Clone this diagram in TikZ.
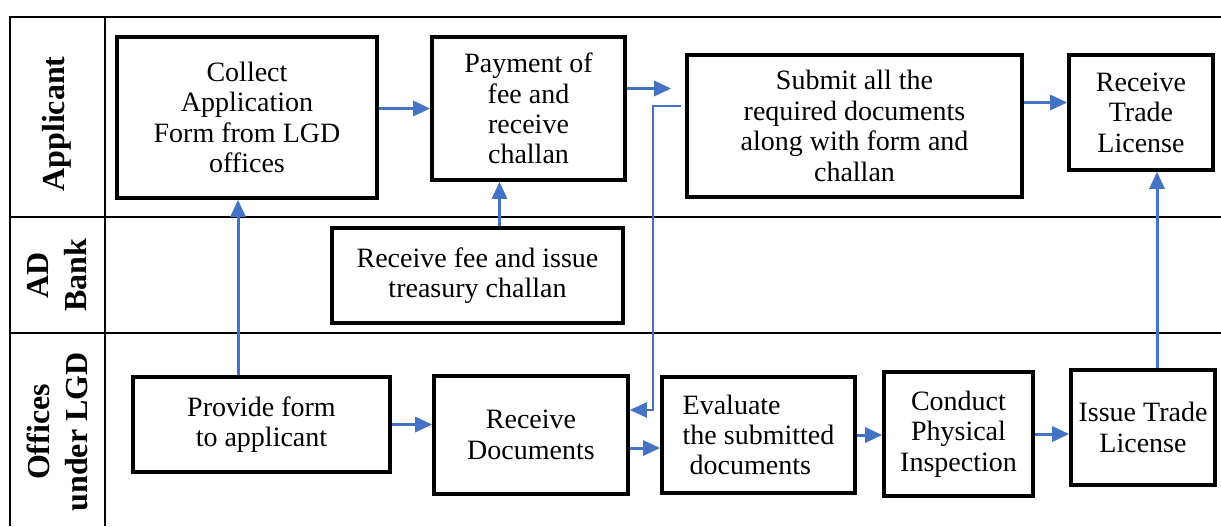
\documentclass[tikz,border=0pt]{standalone}
\usepackage{fontspec}
\setmainfont{Liberation Serif}
\usetikzlibrary{arrows.meta}
\definecolor{flowblue}{HTML}{4472C4}

\begin{document}
\begin{tikzpicture}[x=0.5pt,y=-0.5pt,
    box/.style={draw,line width=1.8pt,align=center,inner sep=2pt,font=\fontsize{14}{15.2}\selectfont},
    flow/.style={draw=flowblue,line width=1.5pt,-{Triangle[length=8.5pt,width=7.5pt]}},
    lane/.style={font=\fontsize{16}{19}\selectfont\bfseries,rotate=90,align=center}]
    \useasboundingbox (0,0) rectangle (1221,526);

    % lanes
    \draw[line width=1pt] (1221,17) -- (10,17) -- (10,526);
    \draw[line width=1pt] (105,17) -- (105,526);
    \draw[line width=1pt] (10,217) -- (1221,217);
    \draw[line width=1pt] (10,333) -- (1221,333);
    \node[lane] (lapp) at (57,124) {Applicant};
    \node[lane] (lbank) at (57,275) {AD\\Bank};
    \node[lane] (llgd) at (57,432) {Offices\\under LGD};

    % boxes
    \node[box,minimum width=130pt,minimum height=80.5pt] (collect) at (247,117.5) {Collect\\Application\\Form from LGD\\offices};
    \node[box,minimum width=96.5pt,minimum height=71.5pt] (pay) at (528.5,108.5) {Payment of\\fee and\\receive\\challan};
    \node[box,minimum width=167.5pt,minimum height=71pt] (submit) at (854.5,126) {Submit all the\\required documents\\along with form and\\challan};
    \node[box,minimum width=72pt,minimum height=57.5pt] (rtl) at (1141,112.5) {Receive\\Trade\\License};
    \node[box,minimum width=145.5pt,minimum height=47.5pt] (fee) at (477.5,275.5) {Receive fee and issue\\treasury challan};
    \node[box,minimum width=128.5pt,minimum height=47.5pt] (provide) at (261.5,424.5) {Provide form\\to applicant};
    \node[box,minimum width=97pt,minimum height=59pt] (rdoc) at (531,435) {Receive\\Documents};
    \node[box,align=left,minimum width=96.5pt,minimum height=58pt] (eval) at (758.5,435) {Evaluate\\the submitted\\\ documents};
    \node[box,minimum width=74.5pt,minimum height=62pt] (cond) at (958.5,434) {Conduct\\Physical\\Inspection};
    \node[box,minimum width=72pt,minimum height=57.5pt] (issue) at (1143,427.5) {Issue Trade\\License};

    % flows
    \draw[flow] (collect.east |- pay.west) -- (pay.west);
    \draw[flow,shorten >=7pt] ([yshift=10pt]pay.east) -- ([yshift=10pt]pay.east -| submit.west);
    \draw[flow] ([yshift=5pt]rtl.west -| submit.east) -- ([yshift=5pt]rtl.west);
    \draw[flow] ([xshift=11pt]fee.north) -- ([xshift=11pt]fee.north |- pay.south);
    \draw[flow] ([xshift=-4.5pt]collect.south |- provide.north) -- ([xshift=-4.5pt]collect.south);
    \draw[flow,line width=1pt] ([xshift=-2pt,yshift=10pt]submit.west) -- ++(-28,0) |- ([yshift=12.5pt]rdoc.east);
    \draw[flow] (provide.east) -- (provide.east -| rdoc.west);
    \draw[flow] ([yshift=-6.5pt]rdoc.east) -- ([yshift=-6.5pt]eval.west);
    \draw[flow] (eval.east) -- (eval.east -| cond.west);
    \draw[flow] (cond.east) -- (cond.east -| issue.west);
    \draw[flow] ([xshift=7pt]issue.north) -- ([xshift=7pt]issue.north |- rtl.south);
\end{tikzpicture}
\end{document}
